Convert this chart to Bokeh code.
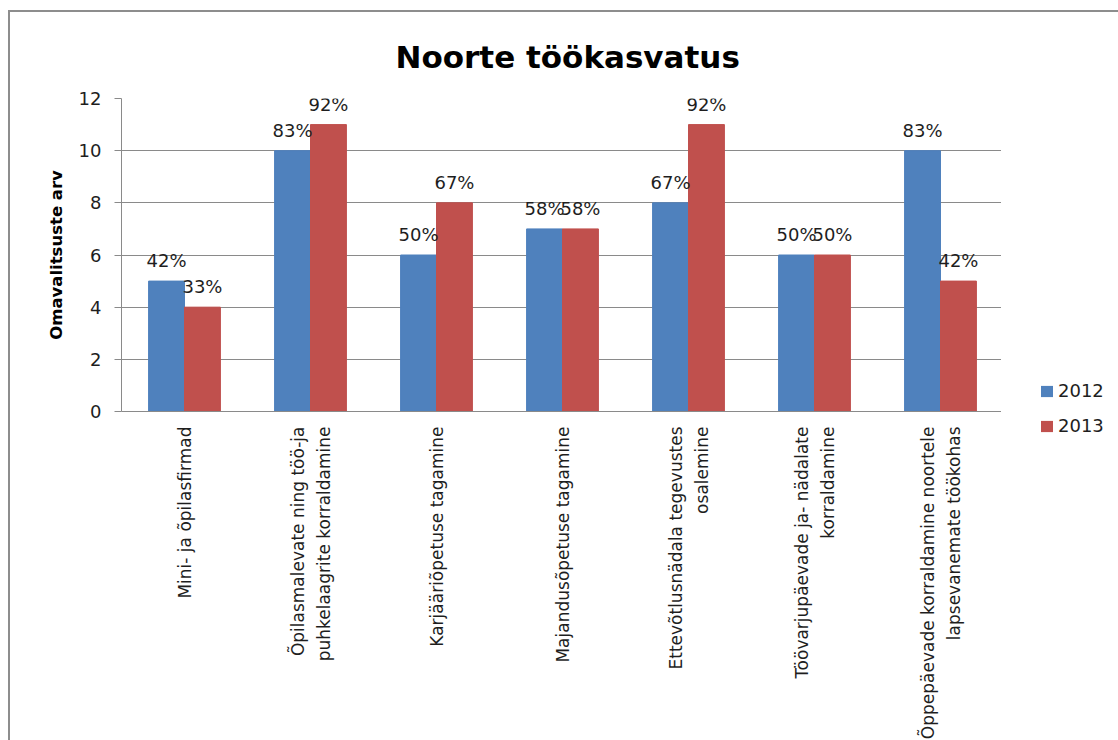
import math
from bokeh.plotting import figure
from bokeh.layouts import row
from bokeh.models import FactorRange, Range1d, Legend, LegendItem, ColumnDataSource
from bokeh.transform import dodge
from bokeh.core.properties import value
from bokeh.embed import file_html
from bokeh.resources import INLINE

categories = [
    "Mini- ja õpilasfirmad",
    "Õpilasmalevate ning töö-ja\npuhkelaagrite korraldamine",
    "Karjääriõpetuse tagamine",
    "Majandusõpetuse tagamine",
    "Ettevõtlusnädala tegevustes\nosalemine",
    "Töövarjupäevade ja- nädalate\nkorraldamine",
    "Õppepäevade korraldamine noortele\nlapsevanemate töökohas",
]
series_names = ["2012", "2013"]
values_2012 = [5, 10, 6, 7, 8, 6, 10]
values_2013 = [4, 11, 8, 7, 11, 6, 5]
labels_2012 = ["42%", "83%", "50%", "58%", "67%", "50%", "83%"]
labels_2013 = ["33%", "92%", "67%", "58%", "92%", "50%", "42%"]
y_ticks = [0, 2, 4, 6, 8, 10, 12]

# trailing no-break spaces so that a short second line is centred under the first
second_line_pad = [0, 0, 0, 0, 14, 13, 9]

FONT = "DejaVu Sans"
BLUE = "#4F81BD"
RED = "#C0504D"
GRID = "#8a8a8a"
TXT = "#1e1e1e"
BORDER = "2px solid #8d8d8d"

src = ColumnDataSource(dict(cat=categories, v12=values_2012, v13=values_2013,
                            l12=labels_2012, l13=labels_2013))

p = figure(width=993, height=730, output_backend="svg", toolbar_location=None,
           x_range=FactorRange(factors=categories, range_padding=0),
           y_range=Range1d(0, 12),
           min_border_left=111, min_border_right=0, min_border_top=84, min_border_bottom=328)
p.styles = {"border-left": BORDER, "border-top": BORDER}

bw = 0.285
r1 = p.vbar(x=dodge("cat", -bw / 2, range=p.x_range), top="v12", width=bw, source=src,
            fill_color=BLUE, line_color=BLUE)
r2 = p.vbar(x=dodge("cat", bw / 2, range=p.x_range), top="v13", width=bw, source=src,
            fill_color=RED, line_color=RED)

p.text(x=dodge("cat", -bw / 2, range=p.x_range), y="v12", text="l12", source=src,
       text_align="center", text_baseline="bottom", y_offset=-10,
       text_font=value(FONT), text_font_size="18px", text_color=TXT)
p.text(x=dodge("cat", bw / 2, range=p.x_range), y="v13", text="l13", source=src,
       text_align="center", text_baseline="bottom", y_offset=-10,
       text_font=value(FONT), text_font_size="18px", text_color=TXT)

# title
p.title.text = "Noorte töökasvatus"
p.title.align = "left"
p.title.offset = 274
p.title.text_font = FONT
p.title.text_font_style = "bold"
p.title.text_font_size = "31px"
p.title.text_color = "#000000"
p.title.standoff = 48

# grid / outline
p.outline_line_color = None
p.xgrid.grid_line_color = None
p.ygrid.grid_line_color = GRID
p.ygrid.grid_line_width = 1
p.background_fill_color = "white"
p.border_fill_color = "white"

# y axis
p.yaxis.ticker = y_ticks
p.yaxis.axis_line_color = GRID
p.yaxis.major_tick_line_color = GRID
p.yaxis.major_tick_out = 7
p.yaxis.major_tick_in = 0
p.yaxis.minor_tick_line_color = None
p.yaxis.major_label_text_font = FONT
p.yaxis.major_label_text_font_size = "18px"
p.yaxis.major_label_text_color = TXT
p.yaxis.major_label_standoff = 13
p.yaxis.axis_label = "Omavalitsuste arv"
p.yaxis.axis_label_text_font = FONT
p.yaxis.axis_label_text_font_style = "bold"
p.yaxis.axis_label_text_font_size = "16.5px"
p.yaxis.axis_label_text_color = "#000000"
p.yaxis.axis_label_standoff = 10

# x axis
overrides = {}
for c, n in zip(categories, second_line_pad):
    if "\n" in c and n:
        a, b = c.split("\n")
        overrides[c] = a + "\n" + b + "\u00a0" * n
p.xaxis.major_label_overrides = overrides
p.xaxis.axis_line_color = GRID
p.xaxis.major_tick_line_color = None
p.xaxis.major_tick_out = 0
p.xaxis.major_tick_in = 0
p.xaxis.minor_tick_line_color = None
p.xaxis.major_label_orientation = math.pi / 2
p.xaxis.major_label_text_font = FONT
p.xaxis.major_label_text_font_size = "17px"
p.xaxis.major_label_text_color = TXT
p.xaxis.major_label_standoff = 15
p.xaxis.major_label_text_line_height = 1.3

# legend canvas to the right of the chart; legend sits in its (unclipped) left panel
p2 = figure(width=117, height=730, output_backend="svg", toolbar_location=None,
            x_axis_type=None, y_axis_type=None,
            x_range=Range1d(0, 1), y_range=Range1d(0, 1), min_border=0)
p2.styles = {"border-top": BORDER}
p2.outline_line_color = None
p2.grid.grid_line_color = None
# zero-height swatch renderers (invisible) that supply the legend colours
k1 = p2.vbar(x=[0.5], top=[0], bottom=[0], width=0.1, fill_color=BLUE, line_color=None)
k2 = p2.vbar(x=[0.5], top=[0], bottom=[0], width=0.1, fill_color=RED, line_color=None)
legend = Legend(items=[LegendItem(label=series_names[0], renderers=[k1]),
                       LegendItem(label=series_names[1], renderers=[k2])],
                location=(38, -25), orientation="vertical",
                border_line_color=None, background_fill_alpha=0,
                padding=0, margin=0, glyph_width=15, glyph_height=14,
                label_standoff=4, spacing=14, label_height=20,
                label_text_font=FONT, label_text_font_size="18px", label_text_color=TXT)
p2.add_layout(legend, "left")

layout = row(p, p2)
layout.styles = {"margin-left": "8px", "margin-top": "10px"}

open("out.html", "w").write(file_html(layout, INLINE))
